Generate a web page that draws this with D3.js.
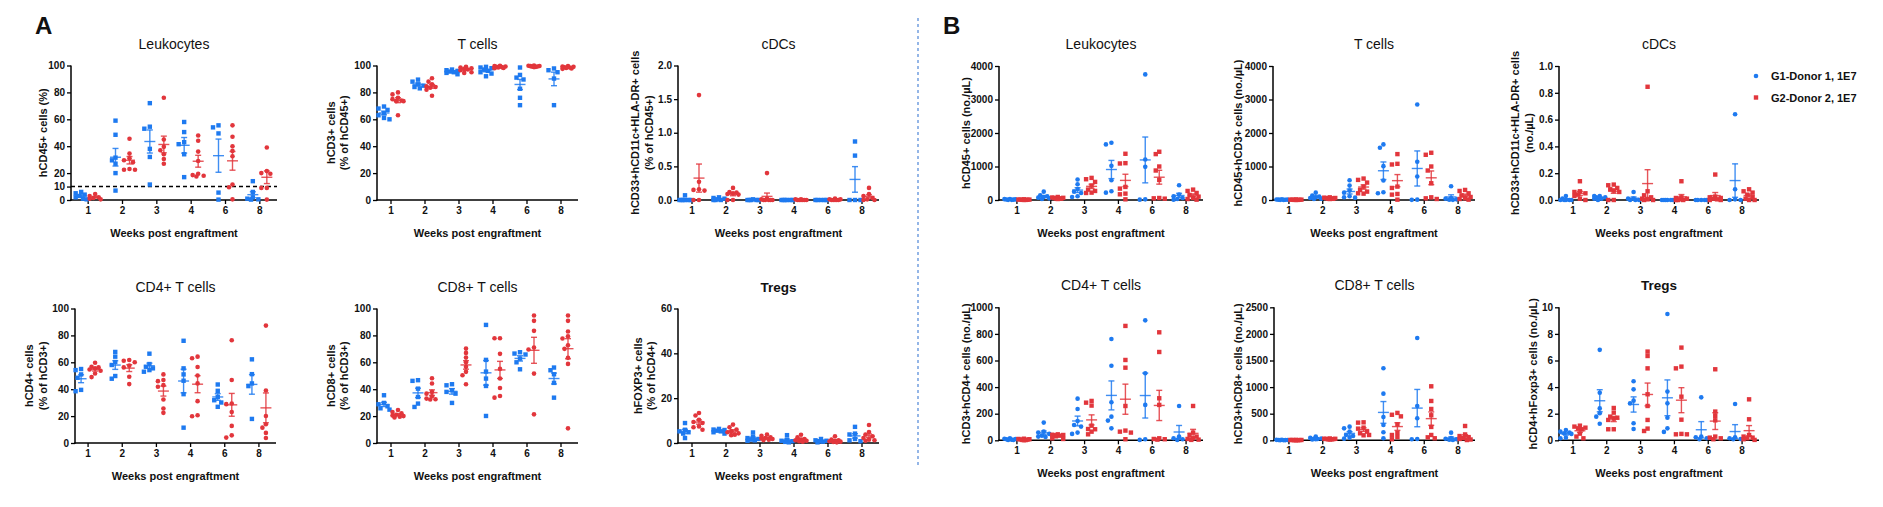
<!DOCTYPE html>
<html><head><meta charset="utf-8">
<script src="https://cdn.jsdelivr.net/npm/d3@7"></script>
<style>
html,body{margin:0;padding:0;background:#fff;}
svg{display:block;font-family:"Liberation Sans",Arial,sans-serif;}
</style></head>
<body><svg id="c" width="1883" height="507"></svg>
<script>
// ---------------- DATA ----------------
const weeks = ['1','2','3','4','6','8'];
const groupNames = ['G1-Donor 1, 1E7','G2-Donor 2, 1E7'];
const xLabel = 'Weeks post engraftment';

// A: frequencies
const aLeukG1 = [[6,5,4,3,2,1,0.5],[59,48.5,31.5,29.5,27,20,7],[72,54.5,53,38,32,11.5],[58,50.5,43,41.5,34,17],[55.5,54,49.5,5.5,0.3],[14,6,2,1,0.5,0.3]];
const aLeukG2 = [[4.5,3,2,1.5,1,0.5],[45.5,34.5,31,29.5,28,23,22.5,22.5],[76,45,39.5,37,34,30.5,27],[48,44,36,29,19.5,18.5,18,17.5],[55.5,47,40,36.5,32.5,11.5,9.5,0.5],[39,21.5,20,19.5,9,9,0.3]];
const aTG1 = [[69.5,68,67,64.5,63,61,60],[89.5,88,86,85,84,83],[97,96.5,96,95.5,95,94.5,93.5],[99,98.5,98,97,96,95,94,92],[98.5,93,91,89.6,82.7,76,70.5],[97.8,96.5,95,90.3,70.5]];
const aTG2 = [[80,78.5,76,75,74,73.5,73.5,63],[90.5,88,86,84.5,84,83.5,82,77.5],[99,98.5,98,97.5,97,96.5,95,94.5],[99.8,99.5,99.3,99,98.8,98.5,98.2,98],[99.9,99.8,99.6,99.5,99.3,99.2,99,98.8],[99.5,99.2,99,98.7,98.5,98.2,97.8,97.5]];
const aDcG1 = [[0.07,0,0,0,0,0,0],[0.04,0.03,0.02,0.01,0,0,0],[0.01,0,0,0,0,0],[0,0,0,0,0,0],[0,0,0,0,0],[0.87,0.66,0,0,0]];
const aDcG2 = [[1.56,0.27,0.16,0.15,0.14,0,0],[0.18,0.12,0.11,0.1,0.09,0.08,0,0],[0.4,0.02,0.01,0,0,0,0,0],[0.01,0.01,0,0,0,0,0,0],[0.02,0.01,0.01,0,0,0,0,0],[0.18,0.09,0.06,0.03,0.01,0,0]];
const aCd4G1 = [[55,54.2,51,48.5,39.5,38.5],[67.7,64.2,60.2,58,49.8,47.8],[66.4,58.7,56.7,55.5,54.2,53],[76,55.5,51,46.3,36.3,11.4],[43.5,38.8,34.3,31.8,30.1,26.9],[62.2,51.2,44.3,42.3,17.9]];
const aCd4G2 = [[59.7,56.7,56.2,55.5,54.7,53.7,51.7,49],[61.7,61.2,60,57.5,56.2,49.3,43.8],[51,46.8,46,43,41.8,32.3,25.6,22.4],[64.2,63,56.5,50.2,44.3,31.1,20.6,19.9],[76.4,46.8,29.4,28.9,23.1,12.7,5.7,4],[87.3,39,20.1,13.9,11.4,7.5,3.7]];
const aCd8G1 = [[35.5,29.8,28.8,27.3,25.8,24.8],[46.7,46.2,40.4,34.2,29.3,26.8],[43.7,42.9,39.2,38,36.7,29.8],[87.8,61.8,53.1,47.9,42.4,20.1],[67.5,66.5,65.8,62.8,60,54.8],[56.1,54.1,51.1,44.7,33.7]];
const aCd8G2 = [[24.5,23,22,21,20.5,20,19.5,19],[48.1,44.2,38,36.7,34.7,33,32.5,32.3],[70.2,67,63.5,60,56.6,52.9,50.4,43.7],[77.9,77.9,66.3,55.1,47.9,40.9,35,33.7],[94.8,90.8,83.4,71,69.5,51.6,21.3],[94.8,90.8,82.9,79.4,77.7,72.7,70,63.3,58.8,10.9]];
const aTregG1 = [[8.9,5.9,5.2,4.8,4.2,2.2],[6.3,6,5.8,5.5,5.2,4.8,4.2],[4.7,2.8,2.2,1.8,1.5,1.2,1],[3.5,1.5,1,0.8,0.5,0.3],[1.8,1.2,1,0.8,0.6,0.3],[7.2,4.2,3.8,1.8,1.2,0.8]];
const aTregG2 = [[13.4,12.3,10.4,9.4,8.9,7.4,7,5.9],[8.2,7,6,5.2,4.8,4.3,3.7,3.5],[3.8,3.2,2.5,2.2,2,1.8,1.5,1.3],[3.7,2.5,1.8,1.5,1.2,1,0.8,0.6],[3,1.5,1.2,1,0.8,0.6,0.5,0.3],[8,4.9,3.8,3,2.2,1.5,1.2,1]];

// B: absolute counts
const bLeukG1 = [[30,25,20,15,10,5,5],[250,140,110,90,70,50,30],[610,470,330,250,210,110,90],[1710,1660,1020,590,260,220],[3750,1210,990,20,10],[440,160,110,60,30,10]];
const bLeukG2 = [[20,15,12,10,8,5,3,2],[90,75,65,60,50,45,40,30],[660,620,540,430,310,270,220,210],[1380,1100,1090,390,340,190,170,20],[1440,1370,1000,880,600,60,50,40],[310,270,210,150,100,60,30,10]];
const bTG1 = [[20,15,12,10,8,5,3],[220,130,100,80,60,40,30],[590,430,280,220,110,80,70],[1660,1560,1010,580,230,200],[2850,1140,700,10,5],[410,60,40,20,10,5]];
const bTG2 = [[15,12,10,8,6,4,3,2],[80,70,60,55,50,40,35,30],[640,600,520,400,300,250,200,190],[1370,1080,1060,400,360,180,160,10],[1410,1350,1000,880,500,80,50,30],[300,270,200,140,90,50,30,10]];
const bDcG1 = [[0.03,0.01,0,0,0,0,0],[0.03,0.03,0.02,0.02,0.01,0.01,0],[0.06,0.01,0.01,0,0,0],[0,0,0,0,0,0],[0,0,0,0,0],[0.64,0.08,0.005,0,0]];
const bDcG2 = [[0.14,0.065,0.06,0.05,0.04,0.03,0.01,0],[0.115,0.11,0.09,0.08,0.07,0.06,0,0],[0.845,0.065,0.035,0.02,0.01,0.005,0,0],[0.14,0.02,0.015,0.01,0.005,0,0,0],[0.19,0.025,0.02,0.015,0.01,0.005,0,0],[0.08,0.065,0.055,0.04,0.02,0.01,0,0]];
const bCd4G1 = [[15,12,10,8,5,3,2],[133,65,58,48,35,28,25],[313,235,145,115,103,58,48],[762,561,286,178,148,90],[902,504,266,8,3],[258,28,15,8,3]];
const bCd4G2 = [[12,10,8,6,5,3,2,1],[45,42,40,38,35,30,15,10],[296,283,261,110,85,83,65,45],[860,604,546,258,73,65,58,8],[812,664,316,266,15,10,8,5],[258,58,40,28,15,10,5,3]];
const bCd8G1 = [[10,8,6,5,4,3,2],[70,45,35,30,25,20,15],[257,225,163,100,81,50,31],[1353,877,439,288,150,38],[1924,645,414,25,19],[144,40,30,20,10,5]];
const bCd8G2 = [[8,7,6,5,4,3,2,1],[35,30,28,25,22,20,18,15],[338,332,238,219,163,132,100,94],[515,480,450,300,140,100,60,20],[1015,739,589,470,251,100,56,38],[269,110,80,60,40,25,15,5]];
const bTregG1 = [[0.78,0.65,0.58,0.53,0.48,0.2,0.15],[6.8,3.58,2.4,2.03,1.78,1.25],[4.44,3.83,2.98,2.78,1.28,0.85],[9.5,3.66,2.78,1.7,0.9,0.63],[3.23,0.28,0.23,0.15,0.08],[2.73,0.23,0.15,0.1,0.08]];
const bTregG2 = [[1.1,1.03,0.95,0.9,0.83,0.5,0.28,0.15],[2.43,2.08,1.78,1.7,1.63,1.53,0.83,0.83],[6.67,6.34,5.41,3.46,2.58,1.53,0.88,0.7],[6.97,5.54,5.41,3.28,1.55,0.48,0.45,0.45],[5.34,2.16,1.83,1.5,0.28,0.2,0.15,0.08],[3.08,1.58,0.4,0.28,0.2,0.15,0.08,0.03]];

// y tick values
const ticksPct = [0,20,40,60,80,100];
const ticksLeuk = [0,10,20,40,60,80,100];
const ticksDcA = [0,0.5,1.0,1.5,2.0];
const ticksTregA = [0,20,40,60];
const ticks4000 = [0,1000,2000,3000,4000];
const ticksDcB = [0,0.2,0.4,0.6,0.8,1.0];
const ticks1000 = [0,200,400,600,800,1000];
const ticks2500 = [0,500,1000,1500,2000,2500];
const ticksTregB = [0,2,4,6,8,10];

// ---------------- LAYOUT ----------------
const colors = ['#1e7af0','#e2363c'];
const svg = d3.select('#c');

const panels = [
  {title:'Leukocytes', ylab:['hCD45+ cells (%)'], g1:aLeukG1, g2:aLeukG2, ticks:ticksLeuk, max:100, fmt:'d', ax:71, bx:[71,277], y:[200,65.5], lo:[28], sym:['sq','ci'], dash:10},
  {title:'T cells', ylab:['hCD3+ cells','(% of hCD45+)'], g1:aTG1, g2:aTG2, ticks:ticksPct, max:100, fmt:'d', ax:377, bx:[374,578], y:[200,65.5], lo:[46,33], sym:['sq','ci']},
  {title:'cDCs', ylab:['hCD33+hCD11c+HLA-DR+ cells','(% of hCD45+)'], g1:aDcG1, g2:aDcG2, ticks:ticksDcA, max:2, fmt:'.1f', ax:678, bx:[675,879], y:[200,65.5], lo:[43,29], sym:['sq','ci']},
  {title:'CD4+ T cells', ylab:['hCD4+ cells','(% of hCD3+)'], g1:aCd4G1, g2:aCd4G2, ticks:ticksPct, max:100, fmt:'d', ax:75, bx:[71,276], y:[443,308.5], lo:[46,32], sym:['sq','ci']},
  {title:'CD8+ T cells', ylab:['hCD8+ cells','(% of hCD3+)'], g1:aCd8G1, g2:aCd8G2, ticks:ticksPct, max:100, fmt:'d', ax:377, bx:[374,578], y:[443,308.5], lo:[46,33], sym:['sq','ci']},
  {title:'Tregs', bold:true, ylab:['hFOXP3+ cells','(% of hCD4+)'], g1:aTregG1, g2:aTregG2, ticks:ticksTregA, max:60, fmt:'d', ax:678, bx:[675,879], y:[443,308.5], lo:[40,27], sym:['sq','ci']},
  {title:'Leukocytes', ylab:['hCD45+ cells (no./µL)'], g1:bLeukG1, g2:bLeukG2, ticks:ticks4000, max:4000, fmt:'d', ax:999, bx:[1000,1203], y:[200,66], lo:[33], sym:['ci','sq']},
  {title:'T cells', ylab:['hCD45+hCD3+ cells (no./µL)'], g1:bTG1, g2:bTG2, ticks:ticks4000, max:4000, fmt:'d', ax:1273, bx:[1272,1475], y:[200,66], lo:[35], sym:['ci','sq']},
  {title:'cDCs', ylab:['hCD33+hCD11c+HLA-DR+ cells','(no./µL)'], g1:bDcG1, g2:bDcG2, ticks:ticksDcB, max:1, fmt:'.1f', ax:1559, bx:[1556,1759], y:[200,66], lo:[44,30], sym:['ci','sq']},
  {title:'CD4+ T cells', ylab:['hCD3+hCD4+ cells (no./µL)'], g1:bCd4G1, g2:bCd4G2, ticks:ticks1000, max:1000, fmt:'d', ax:999, bx:[1000,1203], y:[440.3,307.3], lo:[33], sym:['ci','sq']},
  {title:'CD8+ T cells', ylab:['hCD3+hCD8+ cells (no./µL)'], g1:bCd8G1, g2:bCd8G2, ticks:ticks2500, max:2500, fmt:'d', ax:1274, bx:[1272,1475], y:[440.3,307.3], lo:[36], sym:['ci','sq']},
  {title:'Tregs', bold:true, ylab:['hCD4+hFoxp3+ cells (no./µL)'], g1:bTregG1, g2:bTregG2, ticks:ticksTregB, max:10, fmt:'d', ax:1559, bx:[1556,1759], y:[440.3,307.3], lo:[26], sym:['ci','sq']}
];

function swarm(vals, ys) {
  const placed = [];
  const offs = [0,-3.5,3.5,-1.8,1.8,-5.5,5.5];
  return vals.map(v => {
    const py = ys(v);
    let best = 0, bestD = -1;
    for (const o of offs) {
      let minD = Infinity;
      for (const p of placed) { const d = Math.hypot(p.x - o, p.y - py); if (d < minD) minD = d; }
      if (minD >= 4.2) { best = o; bestD = minD; break; }
      if (minD > bestD) { bestD = minD; best = o; }
    }
    placed.push({x: best, y: py});
    return best;
  });
}

panels.forEach(p => {
  const g = svg.append('g');
  const x = d3.scaleBand().domain(weeks).range(p.bx);
  const y = d3.scaleLinear().domain([0, p.max]).range(p.y);
  const top = p.y[1], bot = p.y[0];
  const cx = (p.ax + p.bx[1]) / 2;

  // axes
  const ya = d3.axisLeft(y).tickValues(p.ticks).tickSize(4).tickSizeOuter(0).tickFormat(d3.format(p.fmt));
  const yg = g.append('g').attr('transform', `translate(${p.ax},0)`).call(ya);
  yg.select('.domain').remove();
  const xa = d3.axisBottom(x).tickSize(4).tickSizeOuter(0);
  const xg = g.append('g').attr('transform', `translate(0,${bot})`).call(xa);
  xg.select('.domain').remove();
  [yg, xg].forEach(a => {
    a.selectAll('line').attr('stroke', '#000').attr('stroke-width', 1.3);
    a.selectAll('text').attr('font-size', 10).attr('font-weight', 'bold').attr('fill', '#111')
      .attr('font-family', '"Liberation Sans",Arial,sans-serif');
  });
  yg.selectAll('text').attr('x', -6);
  xg.selectAll('text').attr('y', 7);
  g.append('line').attr('x1', p.ax).attr('x2', p.ax).attr('y1', top).attr('y2', bot + 0.7).attr('stroke', '#000').attr('stroke-width', 1.5);
  g.append('line').attr('x1', p.ax - 0.7).attr('x2', p.bx[1]).attr('y1', bot).attr('y2', bot).attr('stroke', '#000').attr('stroke-width', 1.5);

  if (p.dash !== undefined) {
    g.append('line').attr('x1', p.ax).attr('x2', p.bx[1]).attr('y1', y(p.dash)).attr('y2', y(p.dash))
      .attr('stroke', '#000').attr('stroke-width', 1.4).attr('stroke-dasharray', '4,3');
  }

  // titles
  g.append('text').attr('x', cx).attr('y', top - 17).attr('text-anchor', 'middle')
    .attr('font-size', p.bold ? 13.5 : 14).attr('font-weight', p.bold ? 'bold' : 'normal').attr('fill', '#111').text(p.title);
  g.append('text').attr('x', cx).attr('y', bot + 37).attr('text-anchor', 'middle')
    .attr('font-size', 11).attr('font-weight', 'bold').attr('fill', '#111').text(xLabel);
  const ym = (top + bot) / 2;
  p.ylab.forEach((t, i) => {
    g.append('text').attr('transform', `translate(${p.ax - p.lo[i] + 4},${ym}) rotate(-90)`)
      .attr('text-anchor', 'middle').attr('font-size', 11).attr('font-weight', 'bold').attr('fill', '#111').text(t);
  });

  // data
  [p.g1, p.g2].forEach((series, gi) => {
    const col = colors[gi];
    const dx = gi === 0 ? -7 : 7;
    series.forEach((vals, wi) => {
      const c = x(weeks[wi]) + x.bandwidth() / 2 + dx;
      const offs = swarm(vals, y);
      vals.forEach((v, k) => {
        const px = c + offs[k], py = y(v);
        if (p.sym[gi] === 'sq') {
          g.append('rect').attr('x', px - 2.2).attr('y', py - 2.2).attr('width', 4.4).attr('height', 4.4).attr('fill', col);
        } else {
          g.append('circle').attr('cx', px).attr('cy', py).attr('r', 2.3).attr('fill', col);
        }
      });
      const m = d3.mean(vals);
      const sem = d3.deviation(vals) / Math.sqrt(vals.length);
      const hi = y(m + sem), lo = y(Math.max(0, m - sem));
      const eg = g.append('g').attr('stroke', col).attr('stroke-width', 1.4).attr('stroke-opacity', 0.85);
      eg.append('line').attr('x1', c).attr('x2', c).attr('y1', hi).attr('y2', lo);
      eg.append('line').attr('x1', c - 3).attr('x2', c + 3).attr('y1', hi).attr('y2', hi);
      eg.append('line').attr('x1', c - 3).attr('x2', c + 3).attr('y1', lo).attr('y2', lo);
      eg.append('line').attr('x1', c - 5.5).attr('x2', c + 5.5).attr('y1', y(m)).attr('y2', y(m));
    });
  });
});

// panel letters
svg.append('text').attr('x', 35).attr('y', 34).attr('font-size', 24).attr('font-weight', 'bold').attr('fill', '#111').text('A');
svg.append('text').attr('x', 943).attr('y', 34).attr('font-size', 24).attr('font-weight', 'bold').attr('fill', '#111').text('B');

// divider
svg.append('line').attr('x1', 918).attr('x2', 918).attr('y1', 18).attr('y2', 468)
  .attr('stroke', '#4f86d8').attr('stroke-width', 1.2).attr('stroke-dasharray', '3,3');

// legend
const lg = svg.append('g');
groupNames.forEach((name, i) => {
  const ly = 76 + i * 21.5;
  if (i === 0) lg.append('circle').attr('cx', 1756).attr('cy', ly).attr('r', 2.3).attr('fill', colors[0]);
  else lg.append('rect').attr('x', 1753.8).attr('y', ly - 2.2).attr('width', 4.4).attr('height', 4.4).attr('fill', colors[1]);
  lg.append('text').attr('x', 1771).attr('y', ly + 4).attr('font-size', 11).attr('font-weight', 'bold').attr('fill', '#111').text(name);
});
</script>
</body></html>
